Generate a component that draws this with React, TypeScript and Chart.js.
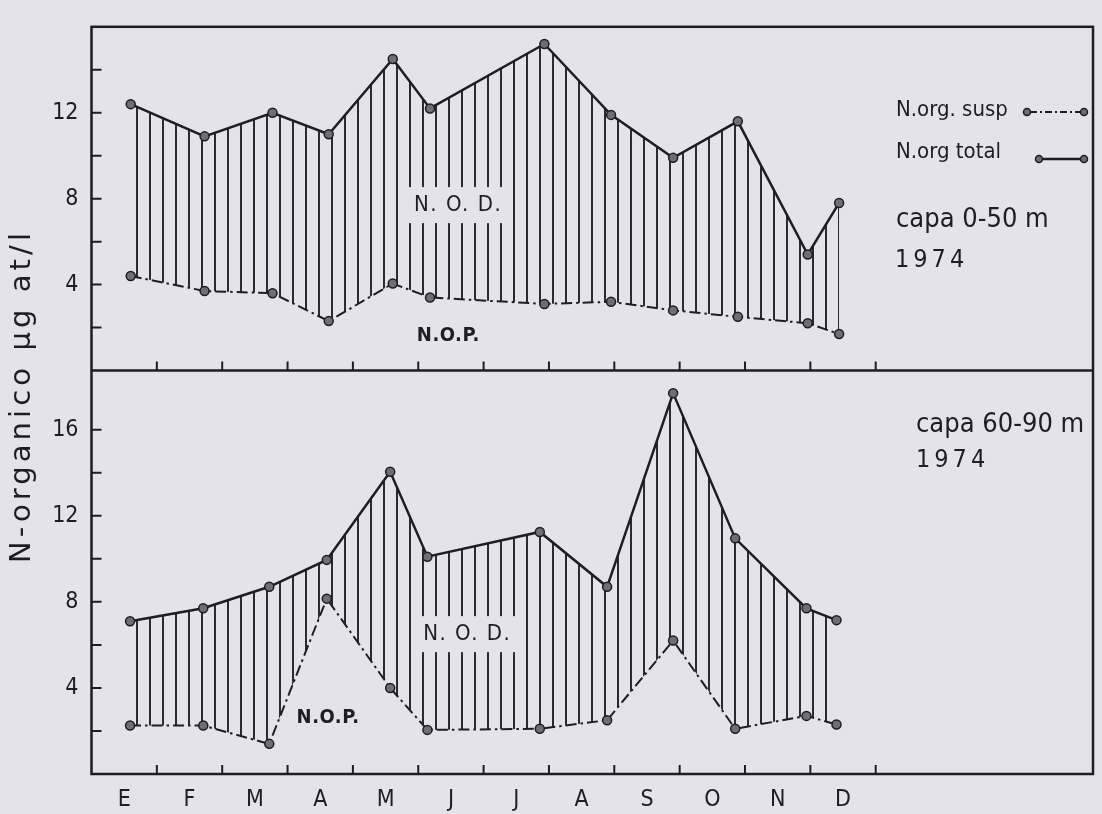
import React, { useEffect, useRef } from 'react';
import { Chart, registerables } from 'chart.js';

Chart.register(...registerables);

// ---- categories / ticks ----
const MONTHS = ['E', 'F', 'M', 'A', 'M', 'J', 'J', 'A', 'S', 'O', 'N', 'D'];
const MONTH_CENTERS = [0.5, 1.5, 2.5, 3.5, 4.5, 5.5, 6.5, 7.5, 8.5, 9.5, 10.5, 11.5];
const MONTH_BOUNDS = [1, 2, 3, 4, 5, 6, 7, 8, 9, 10, 11, 12];
const TOP_TICKS = [2, 4, 6, 8, 10, 12, 14];
const BOT_TICKS = [2, 4, 6, 8, 10, 12, 14, 16];

// ---- capa 0-50 m (sampling date in months from 1 Jan) ----
const TOP_X = [0.6, 1.73, 2.77, 3.63, 4.61, 5.18, 6.93, 7.95, 8.9, 9.89, 10.96, 11.44];
const TOP_TOTAL = [12.4, 10.9, 12.0, 11.0, 14.5, 12.2, 15.2, 11.9, 9.9, 11.6, 5.4, 7.8];
const TOP_SUSP = [4.4, 3.7, 3.6, 2.3, 4.05, 3.4, 3.1, 3.2, 2.8, 2.5, 2.2, 1.7];

// ---- capa 60-90 m ----
const BOT_X = [0.59, 1.71, 2.72, 3.6, 4.57, 5.14, 6.86, 7.89, 8.9, 9.85, 10.94, 11.4];
const BOT_TOTAL = [7.1, 7.7, 8.7, 9.95, 14.05, 10.1, 11.25, 8.7, 17.7, 10.95, 7.7, 7.15];
const BOT_SUSP = [2.25, 2.25, 1.4, 8.15, 4.0, 2.05, 2.1, 2.5, 6.2, 2.1, 2.7, 2.3];

// ---- region labels (month, value) ----
const REGION_LABELS = [
  { axis: 'yTop', text: 'N. O. D.', x: 5.61, y: 7.7, bold: false, box: true },
  { axis: 'yTop', text: 'N.O.P.', x: 5.46, y: 1.6, bold: true, box: false },
  { axis: 'yBot', text: 'N. O. D.', x: 5.75, y: 6.5, bold: false, box: true },
  { axis: 'yBot', text: 'N.O.P.', x: 3.62, y: 2.6, bold: true, box: false },
];

const INK = '#1d1d22';
const BG = '#e3e3e9';
const MARK = '#6e6e75';
const FONT = '"DejaVu Sans Condensed", "Liberation Sans Narrow", "DejaVu Sans", sans-serif';
const WIDE_FONT = '"DejaVu Sans", "Noto Sans", sans-serif';
const SUSP_DASH = [11, 4, 2.5, 4];

const pts = (xs: number[], ys: number[]) => xs.map((x, i) => ({ x, y: ys[i] }));

function makeHatch(): CanvasPattern | string {
  const c = document.createElement('canvas');
  c.width = 13;
  c.height = 4;
  const g = c.getContext('2d');
  if (!g) return INK;
  g.fillStyle = '#2a2a2f';
  g.fillRect(6, 0, 2, 4);
  return g.createPattern(c, 'repeat') ?? INK;
}

function circle(ctx: CanvasRenderingContext2D, x: number, y: number, r: number) {
  ctx.beginPath();
  ctx.arc(x, y, r, 0, Math.PI * 2);
  ctx.fillStyle = MARK;
  ctx.fill();
  ctx.lineWidth = 1.5;
  ctx.strokeStyle = INK;
  ctx.stroke();
}

const decor = {
  id: 'decor',
  afterDraw(chart: any) {
    const { ctx, chartArea: a, scales } = chart;
    const x = scales.x;
    const yT = scales.yTop;
    const yB = scales.yBot;
    const mid = yT.bottom;
    ctx.save();

    // region labels
    for (const l of REGION_LABELS) {
      const sc = l.axis === 'yTop' ? yT : yB;
      const px = x.getPixelForValue(l.x);
      const py = sc.getPixelForValue(l.y);
      ctx.font = `${l.bold ? 'bold ' : ''}${l.bold ? 20 : 22}px ${FONT}`;
      (ctx as any).letterSpacing = l.bold ? '0.5px' : '1.5px';
      const w = ctx.measureText(l.text).width;
      if (l.box) {
        ctx.fillStyle = BG;
        ctx.fillRect(px - w / 2 - 6, py - 18, w + 12, 36);
      }
      ctx.fillStyle = INK;
      ctx.textAlign = 'center';
      ctx.textBaseline = 'middle';
      ctx.fillText(l.text, px, py);
    }
    (ctx as any).letterSpacing = '0px';

    // frame + divider
    ctx.strokeStyle = INK;
    ctx.lineWidth = 2.5;
    ctx.setLineDash([]);
    ctx.strokeRect(a.left, a.top, a.right - a.left, a.bottom - a.top);
    ctx.beginPath();
    ctx.moveTo(a.left, mid);
    ctx.lineTo(a.right, mid);
    ctx.stroke();

    // inward tick marks
    ctx.lineWidth = 2;
    ctx.beginPath();
    for (const v of TOP_TICKS) {
      const py = yT.getPixelForValue(v);
      ctx.moveTo(a.left, py);
      ctx.lineTo(a.left + 10, py);
    }
    for (const v of BOT_TICKS) {
      const py = yB.getPixelForValue(v);
      ctx.moveTo(a.left, py);
      ctx.lineTo(a.left + 10, py);
    }
    for (const m of MONTH_BOUNDS) {
      const px = x.getPixelForValue(m);
      ctx.moveTo(px, mid);
      ctx.lineTo(px, mid - 9);
      ctx.moveTo(px, a.bottom);
      ctx.lineTo(px, a.bottom - 9);
    }
    ctx.stroke();

    // y title
    ctx.save();
    ctx.font = `29px ${WIDE_FONT}`;
    const title = 'N-organico µg at/l';
    const w0 = ctx.measureText(title).width;
    const spacing = Math.max(0, (334 - w0) / title.length);
    (ctx as any).letterSpacing = `${spacing}px`;
    ctx.translate(22, 398);
    ctx.rotate(-Math.PI / 2);
    ctx.fillStyle = INK;
    ctx.textAlign = 'center';
    ctx.textBaseline = 'middle';
    ctx.fillText(title, spacing / 2, 0);
    ctx.restore();
    (ctx as any).letterSpacing = '0px';

    // legend
    const ds = chart.data.datasets;
    ctx.fillStyle = INK;
    ctx.textAlign = 'left';
    ctx.textBaseline = 'middle';
    ctx.font = `22px ${FONT}`;
    ctx.fillText(ds[0].label, 896, 110);
    ctx.fillText(ds[1].label, 896, 152);
    ctx.strokeStyle = INK;
    ctx.lineWidth = 2;
    ctx.setLineDash([7, 3, 2, 3]);
    ctx.beginPath();
    ctx.moveTo(1030, 112);
    ctx.lineTo(1081, 112);
    ctx.stroke();
    ctx.setLineDash([]);
    ctx.lineWidth = 2.5;
    ctx.beginPath();
    ctx.moveTo(1042, 159);
    ctx.lineTo(1081, 159);
    ctx.stroke();
    circle(ctx, 1027, 112, 3.5);
    circle(ctx, 1084, 112, 3.5);
    circle(ctx, 1039, 159, 3.5);
    circle(ctx, 1084, 159, 3.5);

    // panel captions
    ctx.fillStyle = INK;
    ctx.font = `27px ${FONT}`;
    ctx.fillText('capa 0-50 m', 896, 220);
    ctx.fillText('capa 60-90 m', 916, 425);
    ctx.font = `25px ${FONT}`;
    (ctx as any).letterSpacing = '4px';
    ctx.fillText('1974', 895, 260);
    ctx.fillText('1974', 916, 460);
    (ctx as any).letterSpacing = '0px';

    ctx.restore();
  },
};

export default function App() {
  const ref = useRef<HTMLCanvasElement>(null);

  useEffect(() => {
    const canvas = ref.current;
    if (!canvas) return;
    const hatch = makeHatch();
    const tickFont = { family: FONT, size: 23 };

    const lineBase = {
      borderColor: INK,
      pointRadius: 4.5,
      pointBackgroundColor: MARK,
      pointBorderColor: INK,
      pointBorderWidth: 1.5,
      tension: 0,
    };

    const chart = new Chart(canvas, {
      type: 'line',
      data: {
        datasets: [
          { ...lineBase, label: 'N.org. susp', data: pts(TOP_X, TOP_SUSP), yAxisID: 'yTop', borderWidth: 2, borderDash: SUSP_DASH, fill: false },
          { ...lineBase, label: 'N.org total', data: pts(TOP_X, TOP_TOTAL), yAxisID: 'yTop', borderWidth: 2.5, fill: '-1', backgroundColor: hatch },
          { ...lineBase, label: 'N.org. susp 60-90', data: pts(BOT_X, BOT_SUSP), yAxisID: 'yBot', borderWidth: 2, borderDash: SUSP_DASH, fill: false },
          { ...lineBase, label: 'N.org total 60-90', data: pts(BOT_X, BOT_TOTAL), yAxisID: 'yBot', borderWidth: 2.5, fill: '-1', backgroundColor: hatch },
        ],
      } as any,
      options: {
        animation: false,
        responsive: false,
        events: [],
        layout: { padding: { top: 11, right: 9, bottom: 0, left: 0 } },
        plugins: { legend: { display: false }, tooltip: { enabled: false } },
        scales: {
          x: {
            type: 'linear',
            position: 'bottom',
            min: 0,
            max: 15.325,
            grid: { display: false, drawTicks: false },
            border: { display: false },
            afterBuildTicks: (s: any) => {
              s.ticks = MONTH_CENTERS.map((v) => ({ value: v }));
            },
            afterFit: (s: any) => {
              s.height = 40;
            },
            ticks: {
              autoSkip: false,
              maxRotation: 0,
              padding: 12,
              color: INK,
              font: { family: FONT, size: 23 },
              callback: (_v: any, i: number) => MONTHS[i],
            },
          },
          yBot: {
            type: 'linear',
            position: 'left',
            stack: 'panels',
            stackWeight: 412,
            min: 0,
            max: 18.75,
            grid: { display: false, drawTicks: false },
            border: { display: false },
            afterFit: (s: any) => {
              s.width = 91.5;
            },
            ticks: {
              stepSize: 2,
              padding: 13,
              color: INK,
              font: tickFont,
              callback: (v: any) => (v > 0 && v % 4 === 0 ? String(v) : ''),
            },
          },
          yTop: {
            type: 'linear',
            position: 'left',
            stack: 'panels',
            stackWeight: 351,
            min: 0,
            max: 16,
            grid: { display: false, drawTicks: false },
            border: { display: false },
            afterFit: (s: any) => {
              s.width = 91.5;
            },
            ticks: {
              stepSize: 2,
              padding: 13,
              color: INK,
              font: tickFont,
              callback: (v: any) => (v > 0 && v < 16 && v % 4 === 0 ? String(v) : ''),
            },
          },
        },
      } as any,
      plugins: [decor],
    });

    return () => chart.destroy();
  }, []);

  return (
    <div style={{ position: 'absolute', left: 0, top: 0, width: 1102, height: 814, background: BG, overflow: 'hidden' }}>
      <canvas ref={ref} width={1102} height={814} style={{ display: 'block', width: 1102, height: 814 }} />
    </div>
  );
}
